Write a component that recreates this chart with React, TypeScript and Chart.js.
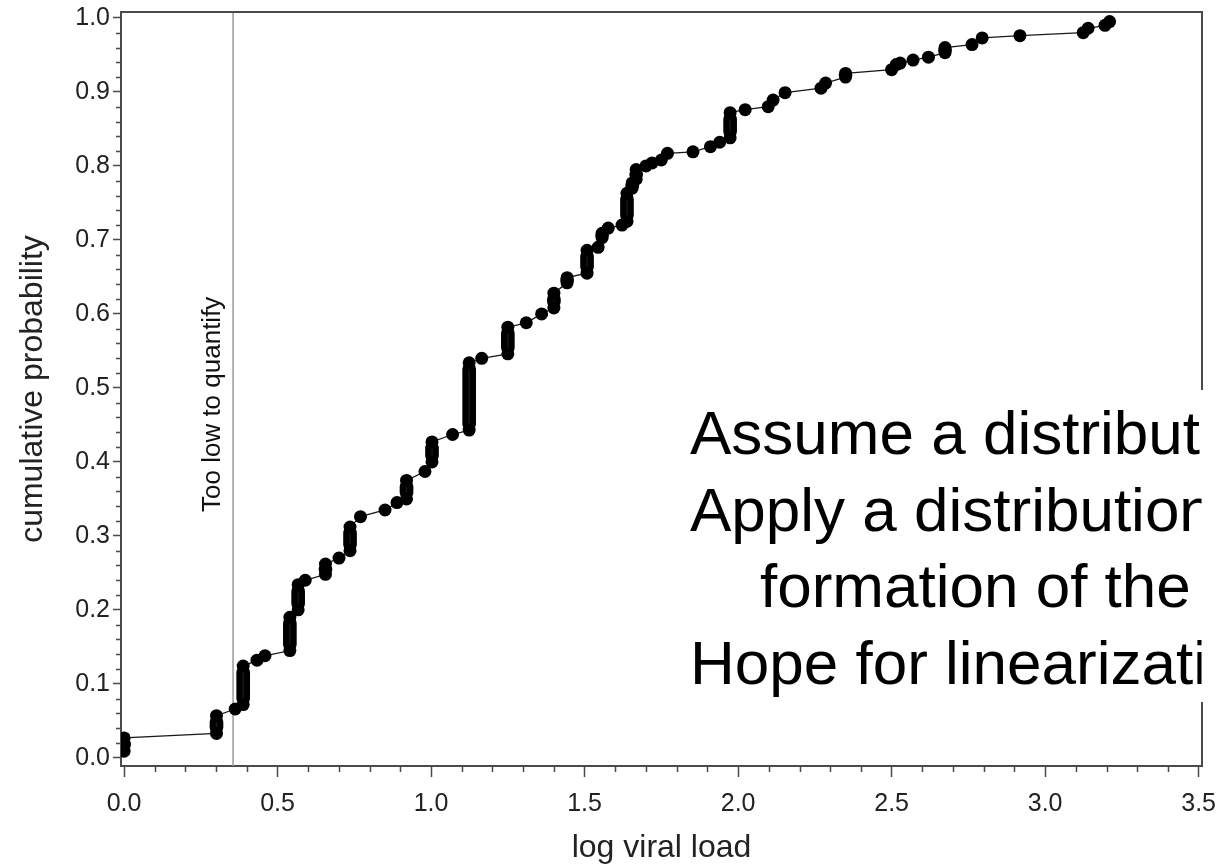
import React, { useEffect, useRef } from "react";
import { Chart, registerables } from "chart.js";

Chart.register(...registerables);

const FONT = "'Liberation Sans', Arial, Helvetica, sans-serif";
const AXIS_COLOR = "#4a4a4a";
const TEXT_COLOR = "#222222";

// axis ranges and ticks
const X_MIN = -0.01;
const X_MAX = 3.511;
const Y_MIN = -0.011;
const Y_MAX = 1.008;
const X_TICKS = [0, 0.5, 1.0, 1.5, 2.0, 2.5, 3.0, 3.5];
const Y_TICKS = [0, 0.1, 0.2, 0.3, 0.4, 0.5, 0.6, 0.7, 0.8, 0.9, 1.0];
const X_MINOR_TICKS = [0.1, 0.2, 0.3, 0.4, 0.6, 0.7, 0.8, 0.9, 1.1, 1.2, 1.3, 1.4, 1.6, 1.7, 1.8, 1.9, 2.1, 2.2, 2.3, 2.4, 2.6, 2.7, 2.8, 2.9, 3.1, 3.2, 3.3, 3.4];
const Y_MINOR_STEP = 0.02;

// observed log viral load values (distinct) and the cumulative probability
// at the lowest and highest of the tied observations at that value
const VALUE_X = [
  0.0, 0.301, 0.362, 0.388, 0.433, 0.459, 0.54, 0.567, 0.59, 0.656,
  0.7, 0.736, 0.77, 0.85, 0.889, 0.92, 0.98, 1.003, 1.07, 1.124,
  1.165, 1.25, 1.31, 1.36, 1.4, 1.443, 1.508, 1.544, 1.557, 1.577,
  1.622, 1.638, 1.655, 1.668, 1.7, 1.72, 1.75, 1.77, 1.853, 1.91,
  1.94, 1.974, 2.023, 2.098, 2.114, 2.153, 2.27, 2.285, 2.35, 2.5,
  2.515, 2.528, 2.57, 2.62, 2.674, 2.762, 2.795, 2.918, 3.124, 3.14,
  3.195, 3.21,
];
const CUM_LOW = [
  0.009, 0.033, 0.066, 0.072, 0.132, 0.138, 0.145, 0.2, 0.24, 0.248,
  0.27, 0.28, 0.326, 0.335, 0.345, 0.35, 0.387, 0.4, 0.437, 0.443,
  0.54, 0.546, 0.588, 0.6, 0.608, 0.642, 0.655, 0.69, 0.703, 0.716,
  0.72, 0.725, 0.77, 0.782, 0.8, 0.804, 0.808, 0.817, 0.819, 0.826,
  0.832, 0.838, 0.876, 0.88, 0.889, 0.899, 0.905, 0.912, 0.92, 0.93,
  0.937, 0.939, 0.943, 0.947, 0.953, 0.964, 0.973, 0.976, 0.98, 0.986,
  0.99, 0.995,
];
const CUM_HIGH = [
  0.027, 0.057, 0.066, 0.124, 0.132, 0.138, 0.19, 0.234, 0.24, 0.262,
  0.27, 0.312, 0.326, 0.335, 0.345, 0.375, 0.387, 0.427, 0.437, 0.534,
  0.54, 0.582, 0.588, 0.6, 0.628, 0.649, 0.686, 0.69, 0.709, 0.716,
  0.72, 0.763, 0.777, 0.795, 0.8, 0.804, 0.808, 0.817, 0.819, 0.826,
  0.832, 0.872, 0.876, 0.88, 0.889, 0.899, 0.905, 0.912, 0.925, 0.93,
  0.937, 0.939, 0.943, 0.947, 0.96, 0.964, 0.973, 0.976, 0.98, 0.986,
  0.99, 0.995,
];

const LLOQ_X = 0.355;
const LLOQ_LABEL = "Too low to quantify";
const X_TITLE = "log viral load";
const Y_TITLE = "cumulative probability";
const NOTE_LINES = [
  "Assume a distribution",
  "Apply a distribution-based trans-",
  "formation of the data",
  "Hope for linearization",
];
const NOTE_INDENT = [0, 0, 70, 0];

const decorPlugin = {
  id: "decor",
  beforeDatasetsDraw(chart: any) {
    const { ctx, chartArea: a, scales } = chart;
    const px = scales.x.getPixelForValue(LLOQ_X);
    ctx.save();
    ctx.strokeStyle = "#9a9a9a";
    ctx.lineWidth = 1.5;
    ctx.beginPath();
    ctx.moveTo(px, a.top);
    ctx.lineTo(px, a.bottom);
    ctx.stroke();
    ctx.translate(px - 13, a.top + 500);
    ctx.rotate(-Math.PI / 2);
    ctx.fillStyle = "#111";
    ctx.font = `26px ${FONT}`;
    ctx.textAlign = "left";
    ctx.textBaseline = "alphabetic";
    ctx.fillText(LLOQ_LABEL, 0, 0);
    ctx.restore();
  },
  afterDraw(chart: any) {
    const { ctx, chartArea: a, scales } = chart;
    const xs = scales.x;
    const ys = scales.y;
    ctx.save();
    ctx.strokeStyle = AXIS_COLOR;
    ctx.lineWidth = 2;
    ctx.beginPath();
    ctx.moveTo(a.left, a.top);
    ctx.lineTo(a.right, a.top);
    ctx.lineTo(a.right, a.bottom);
    ctx.stroke();

    ctx.lineWidth = 1.5;
    ctx.beginPath();
    X_MINOR_TICKS.forEach((v) => {
      const p = Math.round(xs.getPixelForValue(v)) + 0.5;
      ctx.moveTo(p, a.bottom);
      ctx.lineTo(p, a.bottom + 6);
    });
    for (let i = 1; i < 50; i++) {
      if (i % 5 === 0) continue;
      const p = Math.round(ys.getPixelForValue(i * Y_MINOR_STEP)) + 0.5;
      ctx.moveTo(a.left, p);
      ctx.lineTo(a.left - 5, p);
    }
    ctx.stroke();

    // text box overlay
    const bx = 680;
    const by = 390;
    const bh = 312;
    ctx.fillStyle = "#ffffff";
    ctx.fillRect(bx, by, a.right + 2 - bx, bh);
    ctx.beginPath();
    ctx.rect(bx, by, a.right - 0.5 - bx, bh);
    ctx.clip();
    ctx.fillStyle = "#000";
    ctx.font = `62px ${FONT}`;
    ctx.textAlign = "left";
    ctx.textBaseline = "alphabetic";
    NOTE_LINES.forEach((t, i) => {
      ctx.fillText(t, 690 + NOTE_INDENT[i], 454 + i * 76.7);
    });
    ctx.restore();
  },
};

export default function App() {
  const ref = useRef<HTMLCanvasElement | null>(null);
  useEffect(() => {
    if (!ref.current) return;
    const linePoints: { x: number; y: number }[] = [];
    const stackBars: { x: number; y: number[] }[] = [];
    VALUE_X.forEach((x, i) => {
      linePoints.push({ x, y: CUM_LOW[i] });
      if (CUM_HIGH[i] > CUM_LOW[i]) {
        linePoints.push({ x, y: CUM_HIGH[i] });
        stackBars.push({ x, y: [CUM_LOW[i], CUM_HIGH[i]] });
      }
    });
    const chart = new Chart(ref.current, {
      type: "line",
      data: {
        datasets: [
          {
            type: "line",
            data: linePoints,
            borderColor: "#1a1a1a",
            borderWidth: 1.3,
            pointRadius: 6.5,
            pointHoverRadius: 6.5,
            pointBackgroundColor: "#000",
            pointBorderWidth: 0,
            tension: 0,
            fill: false,
            order: 1,
          } as any,
          {
            type: "bar",
            data: stackBars,
            backgroundColor: "#000",
            barThickness: 13,
            borderSkipped: false,
            borderRadius: 6.5,
            borderWidth: 0,
            grouped: false,
            order: 2,
          } as any,
        ],
      },
      options: {
        animation: false,
        responsive: true,
        maintainAspectRatio: false,
        events: [],
        layout: { padding: { top: 12, right: 14, left: 0, bottom: 0 } },
        plugins: {
          legend: { display: false },
          tooltip: { enabled: false },
        },
        scales: {
          x: {
            type: "linear",
            min: X_MIN,
            max: X_MAX,
            offset: false,
            afterBuildTicks: (s: any) => {
              s.ticks = X_TICKS.map((v) => ({ value: v }));
            },
            afterFit: (s: any) => {
              s.height = 101;
              s.paddingLeft = 0;
              s.paddingRight = 0;
            },
            grid: {
              display: true,
              drawOnChartArea: false,
              drawTicks: true,
              tickLength: 11,
              tickWidth: 1.5,
              tickColor: AXIS_COLOR,
              offset: false,
            },
            border: { display: true, color: AXIS_COLOR, width: 2 },
            ticks: {
              font: { family: FONT, size: 25 },
              color: TEXT_COLOR,
              padding: 12,
              maxRotation: 0,
              autoSkip: false,
              callback: (v: any) => Number(v).toFixed(1),
            },
            title: {
              display: true,
              text: X_TITLE,
              font: { family: FONT, size: 32 },
              color: TEXT_COLOR,
              padding: { top: 0, bottom: 0 },
            },
          },
          y: {
            type: "linear",
            min: Y_MIN,
            max: Y_MAX,
            beginAtZero: false,
            afterBuildTicks: (s: any) => {
              s.ticks = Y_TICKS.map((v) => ({ value: v }));
            },
            afterFit: (s: any) => {
              s.width = 121;
              s.paddingTop = 0;
              s.paddingBottom = 0;
            },
            grid: {
              display: true,
              drawOnChartArea: false,
              drawTicks: true,
              tickLength: 8,
              tickWidth: 1.5,
              tickColor: AXIS_COLOR,
            },
            border: { display: true, color: AXIS_COLOR, width: 2 },
            ticks: {
              font: { family: FONT, size: 25 },
              color: TEXT_COLOR,
              padding: 3,
              autoSkip: false,
              callback: (v: any) => Number(v).toFixed(1),
            },
            title: {
              display: true,
              text: Y_TITLE,
              font: { family: FONT, size: 32 },
              color: TEXT_COLOR,
              padding: { top: 14, bottom: 0 },
            },
          },
        },
      } as any,
      plugins: [decorPlugin],
    });
    return () => chart.destroy();
  }, []);

  return (
    <div style={{ position: "fixed", left: 0, top: 0, width: 1216, height: 867, background: "#fff" }}>
      <canvas ref={ref} />
    </div>
  );
}
